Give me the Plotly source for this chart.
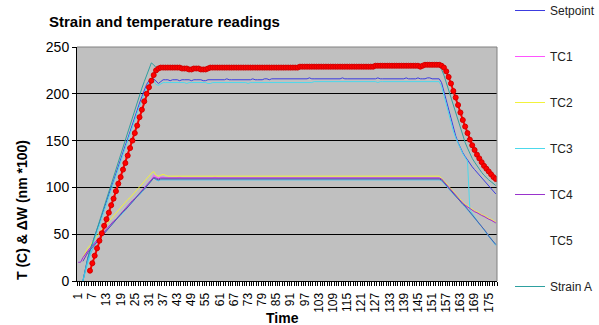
import plotly.graph_objects as go

# ---------------- data ----------------
time = list(range(1, 179))
tick_vals = list(range(1, 176, 6))
tick_text = [str(v) for v in tick_vals]

setpoint = [
    None, None, 0, 13, 24, 33, 41, 48, 55, 62,
    70, 77, 85, 92, 100, 107, 115, 122, 130, 137,
    145, 152, 160, 167, 175, 182, 190, 197, 204, 210,
    214, 216, 216, 213, 211, 213, 215, 215, 215, 214,
    215, 215, 215, 214, 215, 215, 215, 215, 214, 215,
    215, 215, 215, 214, 214, 215, 215, 215, 215, 215,
    215, 215, 215, 216, 215, 215, 215, 215, 215, 215,
    215, 215, 215, 215, 216, 215, 215, 215, 215, 216,
    216, 215, 216, 216, 216, 216, 216, 216, 216, 216,
    216, 216, 216, 216, 216, 216, 216, 216, 217, 216,
    216, 216, 216, 216, 216, 216, 216, 216, 216, 216,
    216, 216, 217, 216, 216, 216, 216, 216, 216, 216,
    216, 216, 216, 216, 216, 216, 216, 217, 216, 216,
    216, 216, 216, 216, 216, 216, 216, 216, 216, 217,
    216, 216, 216, 216, 217, 216, 216, 216, 217, 217,
    216, 216, 216, 216, 212, 202, 192, 182, 172, 163,
    155, 148, 142, 137, 133, 129, 125, 122, 119, 116,
    113, 110, 107, 104, 101, 98, 96, 93,
]

tc1 = [
    None, None, 22, 27, 31, 34, 37, 40, 43, 46,
    49, 52, 55, 58, 60, 63, 66, 69, 71, 74,
    77, 80, 82, 85, 88, 91, 93, 96, 99, 102,
    105, 108, 113, 111, 110, 111, 111, 110, 110, 110,
    110, 110, 110, 111, 110, 110, 110, 110, 110, 110,
    110, 110, 110, 110, 110, 110, 110, 110, 111, 110,
    110, 110, 110, 110, 110, 110, 110, 110, 110, 110,
    110, 110, 110, 110, 110, 110, 110, 110, 110, 110,
    110, 110, 110, 110, 110, 110, 110, 110, 110, 110,
    110, 110, 110, 110, 110, 110, 110, 110, 110, 110,
    110, 110, 110, 110, 110, 110, 110, 110, 110, 110,
    110, 110, 110, 110, 110, 110, 110, 110, 110, 110,
    110, 110, 110, 110, 110, 110, 110, 110, 110, 110,
    110, 110, 110, 110, 110, 110, 110, 110, 110, 110,
    110, 110, 110, 110, 110, 110, 110, 110, 110, 110,
    110, 110, 110, 110, 109, 106, 103, 100, 97, 94,
    92, 89, 86, 84, 81, 79, 78, 76, 75, 73,
    72, 71, 69, 68, 67, 65, 64, 63,
]

tc2 = [
    None, None, 25, 31, 35, 38, 42, 45, 48, 52,
    55, 58, 61, 64, 66, 69, 72, 75, 78, 81,
    84, 87, 89, 92, 95, 98, 101, 104, 107, 109,
    112, 115, 117, 113, 112, 113, 114, 113, 112, 112,
    112, 112, 112, 112, 112, 112, 112, 112, 112, 112,
    112, 112, 112, 112, 112, 112, 112, 112, 112, 112,
    112, 112, 112, 112, 112, 112, 112, 112, 112, 112,
    112, 112, 112, 112, 112, 112, 112, 112, 112, 112,
    112, 112, 112, 112, 112, 112, 112, 112, 112, 112,
    112, 112, 112, 112, 112, 112, 112, 112, 112, 112,
    112, 112, 112, 112, 112, 112, 112, 112, 112, 112,
    112, 112, 112, 112, 112, 112, 112, 112, 112, 112,
    112, 112, 112, 112, 112, 112, 112, 112, 112, 112,
    112, 112, 112, 112, 112, 112, 112, 112, 112, 112,
    112, 112, 112, 112, 112, 112, 112, 112, 112, 112,
    112, 112, 112, 112, 110, 107, 104, 101, 98, 95,
    92, 90, 87, 84, 82, 80, 78, 77, 75, 74,
    72, 71, 70, 68, 67, 66, 64, 63,
]

tc3 = [
    None, None, 0, 10, 20, 29, 37, 45, 52, 60,
    67, 75, 82, 90, 97, 105, 112, 120, 127, 135,
    142, 150, 157, 165, 172, 180, 187, 194, 201, 207,
    212, 214, 214, 210, 209, 211, 212, 212, 212, 212,
    212, 212, 212, 212, 212, 212, 211, 212, 212, 212,
    212, 212, 212, 212, 212, 211, 211, 212, 212, 212,
    212, 212, 212, 212, 212, 212, 212, 212, 212, 212,
    212, 212, 211, 212, 212, 212, 212, 212, 212, 212,
    212, 212, 212, 212, 212, 212, 212, 212, 212, 212,
    212, 212, 212, 212, 212, 212, 212, 212, 212, 212,
    213, 213, 213, 213, 213, 213, 213, 213, 213, 213,
    213, 213, 213, 213, 213, 213, 213, 213, 213, 213,
    213, 213, 213, 213, 213, 213, 213, 212, 213, 213,
    213, 213, 213, 213, 213, 213, 213, 213, 213, 213,
    213, 213, 213, 213, 213, 213, 213, 213, 213, 213,
    213, 213, 213, 213, 208, 198, 188, 178, 168, 160,
    153, 147, 141, 136, 132, 128, 76, 72, 68, 65,
    61, 58, 55, 51, 48, 45, 42, 39,
]

tc4 = [
    20, 20, 25, 29, 32, 35, 38, 41, 44, 47,
    50, 53, 55, 58, 61, 64, 66, 69, 72, 75,
    77, 80, 83, 86, 88, 91, 94, 97, 99, 102,
    105, 108, 111, 110, 109, 110, 110, 110, 110, 110,
    110, 110, 110, 110, 110, 110, 110, 110, 110, 110,
    110, 110, 110, 110, 110, 110, 110, 110, 110, 110,
    110, 110, 110, 110, 110, 110, 110, 110, 110, 110,
    110, 110, 110, 110, 110, 110, 110, 110, 110, 110,
    110, 110, 110, 110, 110, 110, 110, 110, 110, 110,
    110, 110, 110, 110, 110, 110, 110, 110, 110, 110,
    110, 110, 110, 110, 110, 110, 110, 110, 110, 110,
    110, 110, 110, 110, 110, 110, 110, 110, 110, 110,
    110, 110, 110, 110, 110, 110, 110, 110, 110, 110,
    110, 110, 110, 110, 110, 110, 110, 110, 110, 110,
    110, 110, 110, 110, 110, 110, 110, 110, 110, 110,
    110, 110, 110, 110, 109, 106, 103, 100, 97, 94,
    91, 89, 86, 83, 81, 79, 77, 76, 74, 73,
    71, 70, 69, 67, 66, 65, 63, 62,
]

# TC5 has no readings on the chart (legend entry only)
tc5 = [None, None]

strain_a = [
    None, None, 0, 12, 23, 32, 40, 48, 56, 64,
    72, 80, 88, 96, 104, 111, 119, 127, 134, 142,
    150, 158, 166, 174, 182, 190, 198, 206, 213, 220,
    227, 233, 231, 228, 228, 228, 228, 228, 228, 228,
    228, 228, 228, 228, 227, 227, 227, 226, 226, 227,
    227, 227, 226, 226, 226, 227, 228, 228, 228, 228,
    228, 228, 228, 228, 228, 228, 228, 228, 228, 228,
    228, 228, 228, 228, 228, 228, 228, 228, 228, 228,
    228, 228, 228, 228, 228, 228, 228, 228, 228, 228,
    228, 228, 228, 228, 229, 229, 229, 229, 229, 229,
    229, 229, 229, 229, 229, 229, 229, 229, 229, 229,
    229, 229, 229, 229, 229, 229, 229, 229, 229, 229,
    229, 229, 229, 229, 229, 229, 229, 229, 230, 230,
    230, 230, 230, 230, 230, 230, 230, 230, 230, 230,
    230, 230, 230, 230, 230, 230, 230, 230, 230, 230,
    230, 230, 230, 229, 226, 220, 212, 204, 196, 188,
    180, 172, 164, 155, 148, 142, 136, 131, 127, 123,
    119, 116, 113, 110, 108, 106, 104, 102,
]

# series drawn on the chart but cut off from the legend
strain_b = [
    None, None, None, None, None, 11, 19, 27, 35, 43,
    51, 59, 66, 73, 81, 88, 96, 104, 111, 119,
    126, 134, 142, 150, 158, 166, 175, 183, 192, 200,
    207, 214, 220, 225, 227, 228, 228, 228, 228, 228,
    228, 228, 228, 228, 227, 227, 227, 226, 226, 227,
    227, 227, 226, 226, 226, 227, 228, 228, 228, 228,
    228, 228, 228, 228, 228, 228, 228, 228, 228, 228,
    228, 228, 228, 228, 228, 228, 228, 228, 228, 228,
    228, 228, 228, 228, 228, 228, 228, 228, 228, 228,
    228, 228, 228, 228, 229, 229, 229, 229, 229, 229,
    229, 229, 229, 229, 229, 229, 229, 229, 229, 229,
    229, 229, 229, 229, 229, 229, 229, 229, 229, 229,
    229, 229, 229, 229, 229, 229, 230, 230, 230, 230,
    230, 230, 230, 230, 230, 230, 230, 230, 230, 230,
    230, 230, 230, 230, 230, 229, 230, 231, 231, 231,
    231, 231, 231, 231, 230, 228, 224, 218, 211, 203,
    196, 188, 180, 172, 165, 158, 151, 145, 140, 135,
    131, 127, 123, 120, 117, 114, 111, 109,
]

tc6 = [
    None, None, 0, 11, 21, 28, 34, 38, 42, 45,
    48, 51, 54, 57, 59, 62, 65, 68, 70, 73,
    76, 79, 81, 84, 87, 90, 92, 95, 98, 101,
    104, 107, 110, 108, 107, 108, 108, 108, 108, 108,
    108, 108, 108, 108, 108, 108, 108, 108, 108, 108,
    108, 108, 108, 108, 108, 108, 108, 108, 108, 108,
    108, 108, 108, 108, 108, 108, 108, 108, 108, 108,
    108, 108, 108, 108, 108, 108, 108, 108, 108, 108,
    108, 108, 108, 108, 108, 108, 108, 108, 108, 108,
    108, 108, 108, 108, 108, 108, 108, 108, 108, 108,
    108, 108, 108, 108, 108, 108, 108, 108, 108, 108,
    108, 108, 108, 108, 108, 108, 108, 108, 108, 108,
    108, 108, 108, 108, 108, 108, 108, 108, 108, 108,
    108, 108, 108, 108, 108, 108, 108, 108, 108, 108,
    108, 108, 108, 108, 108, 108, 108, 108, 108, 108,
    108, 108, 108, 108, 107, 104, 101, 98, 96, 93,
    90, 88, 85, 83, 80, 77, 74, 71, 68, 64,
    61, 58, 55, 51, 48, 45, 41, 38,
]

tc7 = [
    None, None, 21, 26, 30, 33, 36, 39, 42, 45,
    48, 51, 54, 57, 60, 63, 65, 68, 71, 74,
    76, 79, 82, 85, 87, 90, 93, 96, 98, 101,
    104, 107, 110, 109, 108, 109, 109, 109, 109, 109,
    109, 109, 109, 109, 109, 109, 109, 109, 109, 109,
    109, 109, 109, 109, 109, 109, 109, 109, 109, 109,
    109, 109, 109, 109, 109, 109, 109, 109, 109, 109,
    109, 109, 109, 109, 109, 109, 109, 109, 109, 109,
    109, 109, 109, 109, 109, 109, 109, 109, 109, 109,
    109, 109, 109, 109, 109, 109, 109, 109, 109, 109,
    109, 109, 109, 109, 109, 109, 109, 109, 109, 109,
    109, 109, 109, 109, 109, 109, 109, 109, 109, 109,
    109, 109, 109, 109, 109, 109, 109, 109, 109, 109,
    109, 109, 109, 109, 109, 109, 109, 109, 109, 109,
    109, 109, 109, 109, 109, 109, 109, 109, 109, 109,
    109, 109, 109, 109, 108, 105, 102, 99, 96, 93,
    91, 88, 85, 82, 80, 77, 74, 71, 68, 65,
    61, 58, 55, 52, 48, 45, 42, 39,
]

for _s in (setpoint, tc1, tc2, tc3, tc4, strain_a, strain_b, tc6, tc7):
    assert len(_s) == len(time), len(_s)

FONT = "Liberation Sans, Arial, sans-serif"

fig = go.Figure()

def add_line(y, name, color, legend=True):
    fig.add_trace(go.Scatter(
        x=time[:len(y)], y=y, name=name, mode="lines",
        line=dict(color=color, width=1),
        showlegend=legend, legendgroup=name,
        connectgaps=False, hoverinfo="skip",
    ))

add_line(setpoint, "Setpoint", "#3C3CE0")
add_line(tc1, "TC1", "#FF55FF")
add_line(tc2, "TC2", "#F2F23C")
add_line(tc3, "TC3", "#4CD9EC")
add_line(tc4, "TC4", "#9933CC")
add_line(tc5, "TC5", "rgba(0,0,0,0)")
add_line(strain_a, "Strain A", "#2EA0A0")
add_line(tc6, "TC6", "#44C4EE", legend=False)
add_line(tc7, "TC7", "#5656A6", legend=False)

fig.add_trace(go.Scatter(
    x=time, y=strain_b, name="Strain B", mode="lines+markers",
    line=dict(color="#FF0000", width=2),
    marker=dict(symbol="circle", size=5, color="#FF0000",
                line=dict(color="#D40000", width=1)),
    showlegend=False, legendgroup="Strain B", hoverinfo="skip",
))

fig.update_layout(
    width=599, height=325,
    margin=dict(l=77, r=102, t=47, b=44, autoexpand=False),
    paper_bgcolor="white", plot_bgcolor="#C0C0C0",
    font=dict(family=FONT, color="#000000"),
    title=dict(text="Strain and temperature readings",
               font=dict(family=FONT, size=15, color="#000000", weight="bold"),
               x=49 / 599, xanchor="left", xref="container",
               y=1 - 22 / 325, yanchor="middle", yref="container"),
    showlegend=True,
    legend=dict(x=1.031, xanchor="left", xref="paper",
                y=(281 + 4) / 234, yanchor="top", yref="paper",
                maxheight=330,
                font=dict(family=FONT, size=12, color="#222222"),
                bgcolor="rgba(0,0,0,0)", tracegroupgap=27),
    xaxis=dict(range=[0.5, 178.5], tickmode="array",
               tickvals=tick_vals, ticktext=tick_text, tickangle=-90,
               tickfont=dict(family=FONT, size=12, color="#000000"),
               ticks="outside", ticklen=6, tickcolor="rgba(0,0,0,0)",
               minor=dict(ticks="outside", tick0=0.5, dtick=1, ticklen=4,
                          tickcolor="#000000", tickwidth=1, showgrid=False),
               showline=True, linecolor="#000000", linewidth=1,
               showgrid=False, zeroline=False),
    yaxis=dict(range=[0, 250], tick0=0, dtick=50,
               tickfont=dict(family=FONT, size=14, color="#000000"),
               ticks="outside", ticklen=4, tickcolor="#000000",
               showline=True, linecolor="#000000", linewidth=1,
               showgrid=True, gridcolor="#000000", gridwidth=1,
               zeroline=False),
    shapes=[
        dict(type="line", xref="paper", yref="paper", x0=0, x1=1, y0=1, y1=1,
             line=dict(color="#808080", width=1), layer="above"),
        dict(type="line", xref="paper", yref="paper", x0=1, x1=1, y0=0, y1=1,
             line=dict(color="#808080", width=1), layer="above"),
    ],
    annotations=[
        dict(text="<b>T (C) & ΔW (nm *100)</b>", xref="paper", yref="paper",
             x=(22 - 77) / 420, y=(281 - 210) / 234, textangle=-90,
             xanchor="center", yanchor="middle", showarrow=False,
             font=dict(family=FONT, size=14, color="#000000")),
        dict(text="<b>Time</b>", xref="paper", yref="paper",
             x=(282 - 77) / 420, y=(281 - 318) / 234,
             xanchor="center", yanchor="middle", showarrow=False,
             font=dict(family=FONT, size=14, color="#000000")),
    ],
)

fig.write_html("out.html")
